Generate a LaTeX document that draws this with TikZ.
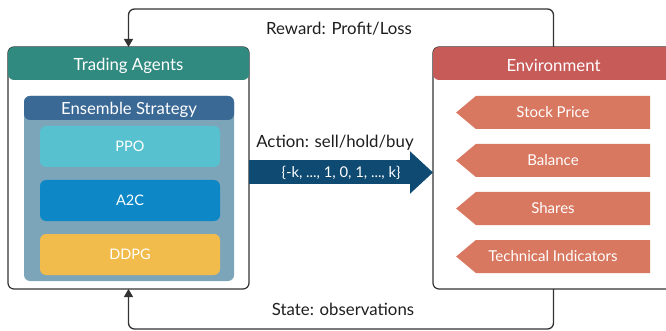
\documentclass[tikz,border=0pt]{standalone}
\usepackage{fontspec}
\setmainfont{Lato}
\usetikzlibrary{arrows.meta,shapes.symbols,calc}
\definecolor{teal1}{HTML}{318A80}
\definecolor{ensh}{HTML}{3B6996}
\definecolor{ensb}{HTML}{7DA5B9}
\definecolor{ppoc}{HTML}{57C1CF}
\definecolor{a2cc}{HTML}{0D87C5}
\definecolor{ddpgc}{HTML}{F2BC4C}
\definecolor{envh}{HTML}{C75B58}
\definecolor{pent}{HTML}{D97860}
\definecolor{actc}{HTML}{0E4A72}
\definecolor{linec}{HTML}{333333}
\definecolor{txtc}{HTML}{1E1E1E}
\tikzset{
  box/.style={rectangle, draw=linec, line width=1.2pt, rounded corners=6pt, inner sep=0pt, outer sep=0pt, minimum width=241pt, minimum height=242pt, fill=white},
  headbox/.style={rectangle, rounded corners=6pt, inner sep=0pt, outer sep=0pt, minimum width=241pt, minimum height=33pt, text=white, font=\fontsize{16.8}{19}\selectfont},
  algbox/.style={rectangle, rounded corners=6pt, inner sep=0pt, outer sep=0pt, minimum width=180pt, minimum height=41pt, text=white, font=\fontsize{14.5}{17}\selectfont},
  pentbox/.style={signal, signal to=west, signal pointer angle=80, fill=pent, inner sep=0pt, outer sep=0pt, minimum width=194pt, minimum height=33pt, text=white, font=\fontsize{15}{17}\selectfont},
  lbl/.style={text=txtc, font=\fontsize{16.8}{19}\selectfont},
  fb/.style={draw=linec, line width=1.3pt, rounded corners=6pt, -{Triangle[length=8pt,width=9pt]}}
}
\newcommand{\pentxt}[1]{\hspace*{-20pt}#1}
\newcommand{\lowtxt}[1]{\raisebox{-2pt}[\height][\depth]{#1}}
\begin{document}
\begin{tikzpicture}[x=1pt,y=-1pt]
\useasboundingbox (0,0) rectangle (666,331);
% left: trading agents
\node[box] (agent) at (128.5,168) {};
\node[headbox, fill=teal1] (agenthead) at (128.5,63.5) {\lowtxt{Trading Agents}};
\node[rectangle, rounded corners=6pt, fill=ensb, inner sep=0pt, minimum width=210pt, minimum height=185pt] (ens) at (129,188.5) {};
\node[rectangle, rounded corners=6pt, fill=ensh, inner sep=0pt, minimum width=210pt, minimum height=24pt, text=white, font=\fontsize{16.7}{19}\selectfont] (enshead) at (129,108) {\lowtxt{Ensemble Strategy}};
\node[algbox, fill=ppoc] (ppo) at (130,146.5) {PPO};
\node[algbox, fill=a2cc] (a2c) at (130,200.5) {A2C};
\node[algbox, fill=ddpgc] (ddpg) at (130,254.5) {DDPG};
% right: environment
\node[box] (env) at (553.5,168) {};
\node[headbox, fill=envh] (envhead) at (553.5,63.5) {\lowtxt{Environment}};
\node[pentbox] (sp) at (563,112.5) {\pentxt{Stock Price}};
\node[pentbox] (bal) at (563,160.5) {\pentxt{Balance}};
\node[pentbox] (sh) at (563,208.5) {\pentxt{Shares}};
\node[pentbox] (ti) at (563,256.5) {\pentxt{Technical Indicators}};
% action arrow
\draw[actc, line width=24pt, -{Triangle[length=23pt,width=41pt]}] ($(agent.east)+(0,4.5)$) -- ($(env.west)+(0,4.5)$)
  node[midway, text=white, font=\fontsize{14.8}{17}\selectfont] (acttxt) {\{-k, ..., 1, 0, 1, ..., k\}};
\node[lbl] (action) at (335,143) {Action: sell/hold/buy};
% feedback loops
\draw[fb] (env.north) -- ++(0,-38) -| (agent.north);
\draw[fb] (env.south) -- ++(0,40) -| (agent.south);
\node[lbl] (reward) at (339,29) {Reward: Profit/Loss};
\node[lbl] (state) at (343,309) {State: observations};
\end{tikzpicture}
\end{document}
